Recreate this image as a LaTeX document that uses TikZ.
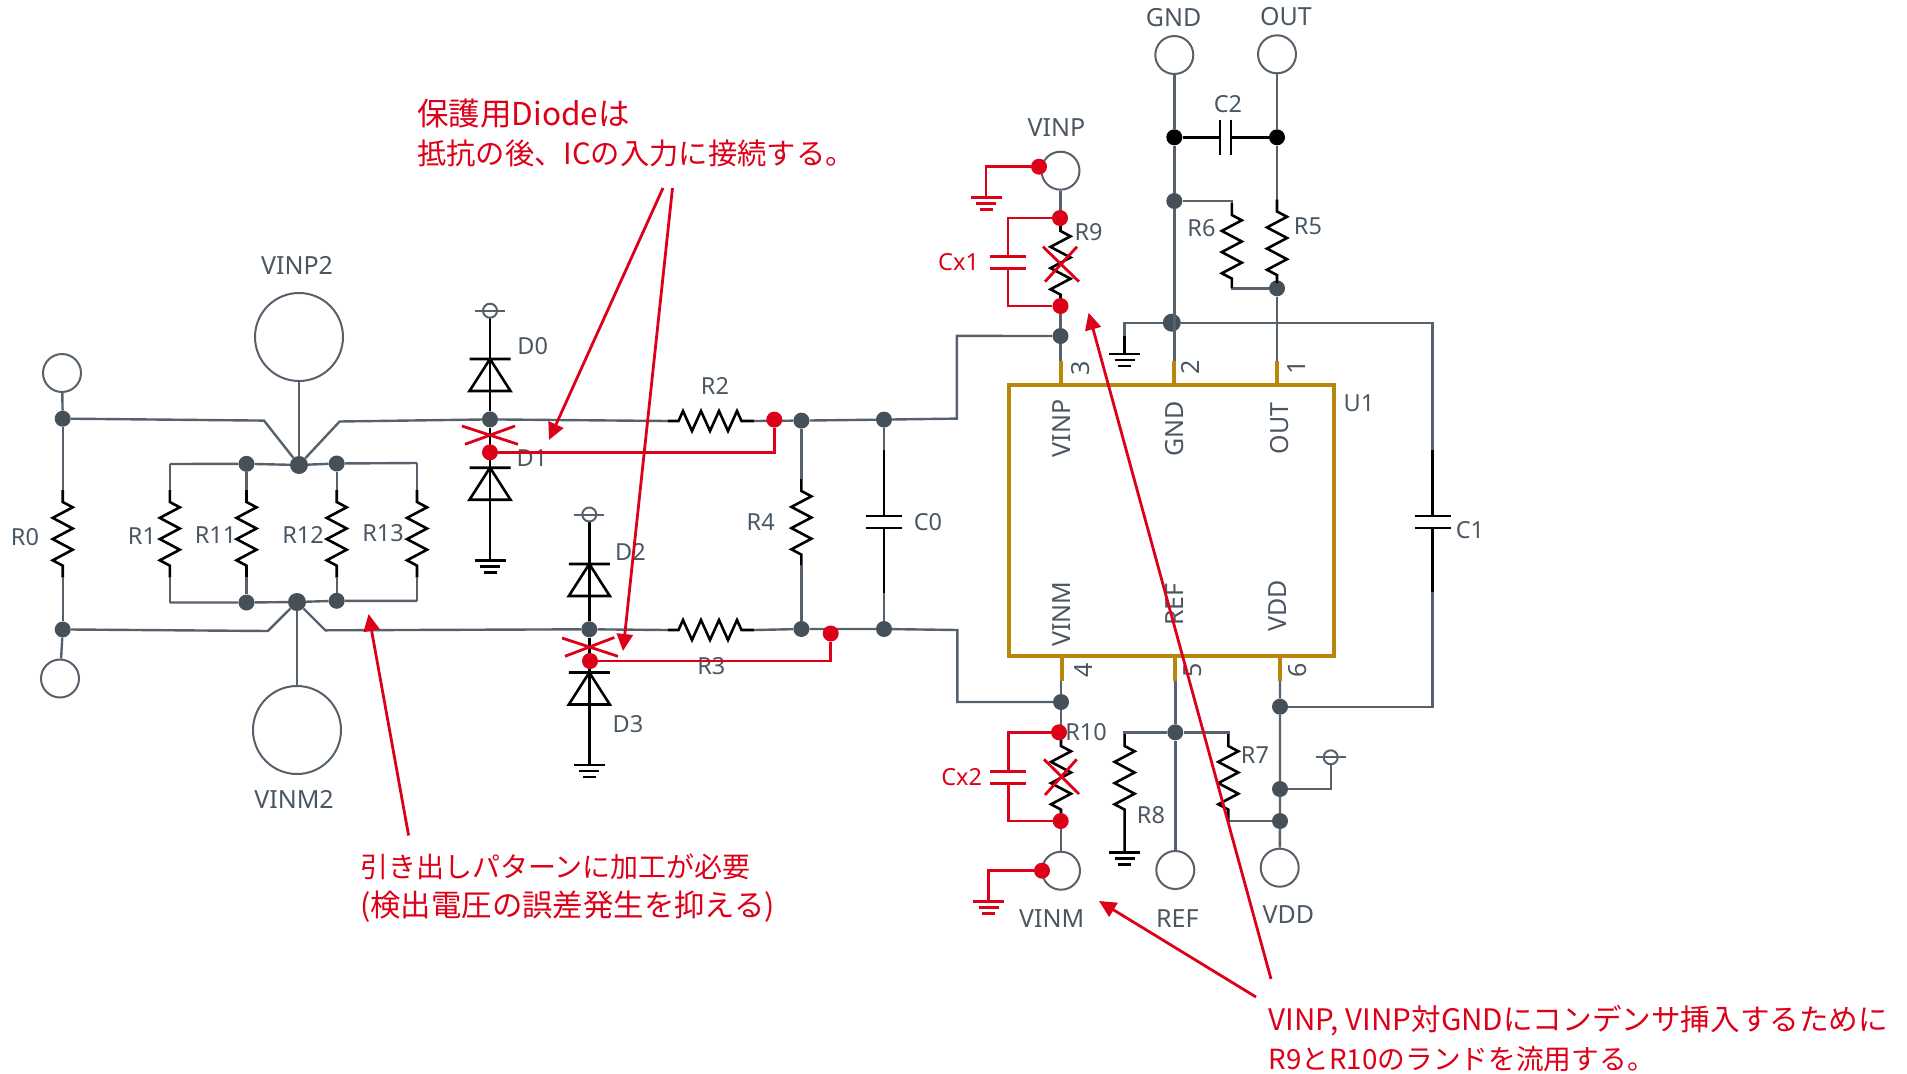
\documentclass[tikz,border=0pt]{standalone}
\usepackage{fontspec}
\setmainfont{Noto Sans}
\newfontfamily\cjk{Noto Sans CJK JP}
\usetikzlibrary{arrows.meta,calc}
\definecolor{wiregrey}{HTML}{56616C}
\definecolor{dotgrey}{HTML}{465058}
\definecolor{textgrey}{HTML}{4A5763}
\definecolor{redc}{HTML}{DC0018}
\definecolor{icor}{HTML}{B8860B}
\tikzset{
  wire/.style={draw=wiregrey,line width=2.4pt,line join=miter},
  blk/.style={draw=black,line width=2.6pt},
  res/.style={draw=black,line width=2.6pt,line join=miter},
  redw/.style={draw=redc,line width=2.8pt},
  redarrow/.style={draw=redc,line width=2.8pt,-{Triangle[length=17pt,width=16pt]}},
  icl/.style={draw=icor,line width=4pt},
  jn/.style={circle,fill=dotgrey,inner sep=0pt,minimum size=16pt},
  jnbig/.style={circle,fill=dotgrey,inner sep=0pt,minimum size=18pt},
  jnblk/.style={circle,fill=black,inner sep=0pt,minimum size=16pt},
  rd/.style={circle,fill=redc,inner sep=0pt,minimum size=16pt},
  port/.style={circle,draw=wiregrey,fill=white,line width=2pt,inner sep=0pt,minimum size=38pt},
  bigport/.style={circle,draw=wiregrey,fill=white,line width=2pt,inner sep=0pt,minimum size=88pt},
  lbl/.style={text=textgrey,inner sep=0pt,font=\fontsize{23.5}{26}\selectfont},
  biglbl/.style={text=textgrey,inner sep=0pt,font=\fontsize{25}{28}\selectfont},
  rlbl/.style={text=redc,inner sep=0pt,font=\fontsize{23.5}{26}\selectfont},
  captxt/.style={text=redc,inner sep=0pt,anchor=west,align=left,font=\cjk\fontsize{29}{39}\selectfont},
  gndsym/.pic={\draw[line width=2.6pt] (-15.5,0)--(15.5,0) (-10,6)--(10,6) (-6.5,12)--(6.5,12);},
  pwrsym/.pic={\draw[line width=2pt,fill=white] (0,0) circle (7pt); \draw[line width=2pt] (-15,0)--(15,0);},
  dio/.pic={\draw[black,line width=2.6pt,line join=miter] (-20.5,0)--(20.5,0) (0,0)--(-20.5,32)--(20.5,32)--cycle;},
  capv/.pic={\draw[line width=2.6pt] (-18,-6)--(18,-6) (-18,6)--(18,6);},
  caph/.pic={\draw[line width=2.6pt] (-5.5,-17.5)--(-5.5,17.5) (5.5,-17.5)--(5.5,17.5);},
}
% vertical resistor: starts at named coordinate #1, ends at #2
\newcommand{\vres}[2]{\draw[res] (#1) -- ++(0,12) -- ++(10,5.3) -- ++(-20,10.6) -- ++(20,10.6) -- ++(-20,10.6) -- ++(20,10.6) -- ++(-20,10.6) -- ++(10,5.3) -- (#2);}
% horizontal resistor
\newcommand{\hres}[2]{\draw[res] (#1) -- ++(11,0) -- ++(4.5,-10) -- ++(9,20) -- ++(9,-20) -- ++(9,20) -- ++(9,-20) -- ++(9,20) -- ++(9,-20) -- ++(4.5,10) -- (#2);}
\newcommand{\capline}[2]{{\fontsize{#1}{39}\selectfont #2}}
\begin{document}
\begin{tikzpicture}[x=1pt,y=-1pt]
\useasboundingbox (0,0) rectangle (1907,1074);
%---- junctions and ports
\node[port] (pTL) at (62,373) {};
\node[port] (pBL) at (60,678.5) {};
\node[bigport] (pVINP2) at (299,337) {};
\node[bigport] (pVINM2) at (297,730) {};
\node[port] (pGND) at (1174.3,55) {};
\node[port] (pOUT) at (1277,54.3) {};
\node[port] (pVINP) at (1060.5,170.7) {};
\node[port] (pVINM) at (1061,870.7) {};
\node[port] (pREF) at (1175.3,870) {};
\node[port] (pVDD) at (1279.7,867.7) {};

\node[jn] (jTL) at (62.7,418.7) {};
\node[jn] (jBL) at (62.7,629.5) {};
\node[jnbig] (hubT) at (299,465) {};
\node[jnbig] (hubB) at (297,602) {};
\node[jn] (jR11t) at (246.5,463.8) {};
\node[jn] (jR12t) at (336.7,463.5) {};
\node[jn] (jR11b) at (246.5,602.5) {};
\node[jn] (jR12b) at (336.7,600.8) {};
\node[jn] (jD0) at (490,419.4) {};
\node[jn] (jD2) at (589.3,629.3) {};
\node[jn] (jR4t) at (801.4,420.6) {};
\node[jn] (jC0t) at (884,419.6) {};
\node[jn] (jR4b) at (801.4,629) {};
\node[jn] (jC0b) at (884,629) {};
\node[jn] (jVINP) at (1060.5,336) {};
\node[jnbig] (jGNDp) at (1171.8,322.7) {};
\node[jn] (jR6) at (1174.3,201) {};
\node[jn] (jR5) at (1277,288.3) {};
\node[jnblk] (jC2l) at (1174.3,137.3) {};
\node[jnblk] (jC2r) at (1277,137.3) {};
\node[jn] (jVINM) at (1061,702) {};
\node[jn] (jREF) at (1175.3,732.3) {};
\node[jn] (jVDDa) at (1280,706.7) {};
\node[jn] (jVDDb) at (1280,789) {};
\node[jn] (jVDDc) at (1280,821) {};

%---- coordinates
\coordinate (tl1) at (264,420.6);
\coordinate (tr1) at (339.6,421.5);
\coordinate (bl1) at (267.8,631);
\coordinate (br1) at (325.3,630.3);
\coordinate (r1t) at (169.8,464);
\coordinate (r1b) at (169.8,602.5);
\coordinate (r13t) at (417,463);
\coordinate (r13b) at (417,600.8);
\coordinate (R2a) at (667.5,421);
\coordinate (R2b) at (754.3,421);
\coordinate (R3a) at (667.5,630);
\coordinate (R3b) at (754.3,630);
\coordinate (cU) at (956.8,418.6);
\coordinate (cUu) at (956.8,335.9);
\coordinate (cD) at (957.3,630);
\coordinate (cDd) at (957.3,702);
\coordinate (sD0) at (490,310.7);
\coordinate (sD2) at (589.3,514.5);
\coordinate (gD1) at (490,560.7);
\coordinate (gD3) at (589.3,765);
\coordinate (gU) at (1124.6,354);
\coordinate (gR8) at (1124.6,852.3);
\coordinate (gPcorner) at (1124.6,322.7);
\coordinate (gPdown) at (1124.6,336);
\coordinate (c1top) at (1432.5,322.7);
\coordinate (c1bot) at (1432.5,706.7);
\coordinate (sVDD) at (1330.7,757.3);
\coordinate (R0a) at (62.7,490);   \coordinate (R0b) at (62.7,577.5);
\coordinate (R1a) at (169.8,490);  \coordinate (R1b) at (169.8,577.5);
\coordinate (R11a) at (246.5,490); \coordinate (R11b) at (246.5,577.5);
\coordinate (R12a) at (336.7,490); \coordinate (R12b) at (336.7,577.5);
\coordinate (R13a) at (417,490);   \coordinate (R13b) at (417,577.5);
\coordinate (R4a) at (801.4,479);  \coordinate (R4b) at (801.4,565);
\coordinate (R5a) at (1277,199.5); \coordinate (R5b) at (1277,283);
\coordinate (R6a) at (1231.8,203); \coordinate (R6b) at (1231.8,288);
\coordinate (R7a) at (1228.3,734); \coordinate (R7b) at (1228.3,821);
\coordinate (R8a) at (1124.6,734); 
\coordinate (R9a) at (1060.5,219);   \coordinate (R9b) at (1060.5,306);
\coordinate (R10a) at (1061,734);  \coordinate (R10b) at (1061,821);

%---- grey wires
\draw[wire] (pTL) -- (jTL);
\draw[wire] (pBL) -- (jBL);
\draw[wire] (jTL) -- (R0a);
\draw[wire] (R0b) -- (jBL);
\draw[wire] (jTL.east) -- (tl1) -- (hubT);
\draw[wire] (hubT) -- (tr1) -- (jD0) -- (R2a);
\draw[wire] (jBL.east) -- (bl1) -- (hubB);
\draw[wire] (hubB) -- (br1) -- (jD2) -- (R3a);
\draw[wire] (pVINP2) -- (hubT);
\draw[wire] (hubB) -- (pVINM2);
\draw[wire] (r1t) -- (jR11t) -- (hubT) -- (jR12t) -- (r13t);
\draw[wire] (r1b) -- (jR11b) -- (hubB) -- (jR12b) -- (r13b);
\draw[wire] (R2b) -- (jR4t) -- (jC0t) -- (cU) -- (cUu) -- (jVINP);
\draw[wire] (R3b) -- (jR4b) -- (jC0b) -- (cD) -- (cDd) -- (jVINM);
\draw[wire] (jR4t) -- (R4a);
\draw[wire] (R4b) -- (jR4b);
\draw[wire] (jC0t) -- (884,450);
\draw[wire] (884,593) -- (jC0b);
\draw[wire] (jR11t) -- (R11a);
\draw[wire] (R11b) -- (jR11b);
\draw[wire] (jR12t) -- (R12a);
\draw[wire] (R12b) -- (jR12b);
\draw[wire] (r1t) -- (R1a);
\draw[wire] (R1b) -- (r1b);
\draw[wire] (r13t) -- (R13a);
\draw[wire] (R13b) -- (r13b);
\draw[wire] (pVINP) -- (R9a);
\draw[wire] (R9b) -- (jVINP) -- (1060.5,361);
\draw[wire] (pGND) -- (jC2l) -- (jR6) -- (1174.3,361);
\draw[wire] (pOUT) -- (jC2r) -- (R5a);
\draw[wire] (R5b) -- (jR5) -- (1277,361);
\draw[wire] (jR6) -| (R6a);
\draw[wire] (R6b) |- (jR5);
\draw[wire] (gPdown) |- (jGNDp) -- (c1top) -- (1432.5,450);
\draw[wire] (1432.5,592) -- (c1bot) -- (jVDDa);
\draw[wire] (jVINM) -- (1061,681);
\draw[wire] (jVINM) -- (R10a);
\draw[wire] (R10b) -- (pVINM);
\draw[wire] (pREF) -- (jREF) -- (1175.3,681);
\draw[wire] (1280,681) -- (jVDDa) -- (jVDDb) -- (jVDDc) -- (pVDD);
\draw[wire] (jVDDb) -| (sVDD);
\draw[wire] (R8a) |- (jREF) -| (R7a);
\draw[wire] (R7b) |- (jVDDc);

%---- black resistors
\foreach \a/\b in {R0a/R0b,R1a/R1b,R11a/R11b,R12a/R12b,R13a/R13b,R4a/R4b,R5a/R5b,R6a/R6b,R7a/R7b,R9a/R9b,R10a/R10b}{\vres{\a}{\b}}
\vres{R8a}{gR8}
\hres{R2a}{R2b}
\hres{R3a}{R3b}

%---- diodes, power and ground
\draw[blk] (sD0) -- (jD0);
\draw[blk] (jD0) -- (gD1);
\draw[blk] (sD2) -- (jD2);
\draw[blk] (jD2) -- (gD3);
\pic[wiregrey] at (sD0) {pwrsym};
\pic[wiregrey] at (sD2) {pwrsym};
\pic[wiregrey] at (sVDD) {pwrsym};
\pic at (490,359) {dio};
\pic at (490,467.7) {dio};
\pic at (589.3,564) {dio};
\pic at (589.3,672.5) {dio};
\pic[black] at (gD1) {gndsym};
\pic[black] at (gD3) {gndsym};
\pic[black] at (gU) {gndsym};
\pic[black] at (gR8) {gndsym};
\draw[blk] (gPdown) -- (gU);

%---- capacitors
\draw[blk] (884,450) -- (884,516);
\draw[blk] (884,528) -- (884,593);
\pic[black] at (884,522) {capv};
\draw[blk] (1432.5,450) -- (1432.5,516);
\draw[blk] (1432.5,528) -- (1432.5,592);
\pic[black] at (1432.5,522) {capv};
\draw[blk] (jC2l) -- (1220,137.3);
\draw[blk] (1231,137.3) -- (jC2r);
\pic[black] at (1225.5,137.3) {caph};

%---- IC
\node[icl,fill=white,inner sep=0pt,minimum width=324.5pt,minimum height=270.7pt] (U1) at (1171.7,520.3) {};
\draw[icl] (1061,361) -- (1061,385);
\draw[icl] (1173.5,361) -- (1173.5,385);
\draw[icl] (1277,361) -- (1277,385);
\draw[icl] (1062,655.7) -- (1062,681);
\draw[icl] (1175.3,655.7) -- (1175.3,681);
\draw[icl] (1279.7,655.7) -- (1279.7,681);

%---- labels
\node[biglbl] (lVINP2) at (297,265) {VINP2};
\node[biglbl] (lVINM2) at (294,799.5) {VINM2};
\node[lbl] (lR0) at (25,537.3) {R0};
\node[lbl] (lR1) at (142,536) {R1};
\node[lbl] (lR11) at (215.5,535.4) {R11};
\node[lbl] (lR12) at (303,534.6) {R12};
\node[lbl] (lR13) at (383,533.5) {R13};
\node[lbl] (lD0) at (532.7,345.6) {D0};
\node[lbl] (lD1) at (532,457.7) {D1};
\node[lbl] (lD2) at (630.4,552) {D2};
\node[lbl] (lD3) at (628,724) {D3};
\node[lbl] (lR2) at (715,386) {R2};
\node[lbl] (lR3) at (711.4,666) {R3};
\node[lbl] (lR4) at (760.7,522) {R4};
\node[lbl] (lC0) at (928,522) {C0};
\node[lbl] (lC1) at (1470,530.5) {C1};
\node[lbl] (lC2) at (1228,104) {C2};
\node[lbl] (lR5) at (1308,226.7) {R5};
\node[lbl] (lR6) at (1201.4,228.3) {R6};
\node[lbl] (lR7) at (1255,755) {R7};
\node[lbl] (lR8) at (1151,815) {R8};
\node[lbl] (lR9) at (1088.6,232) {R9};
\node[lbl] (lR10) at (1086,732.3) {R10};
\node[biglbl] (lGND) at (1173.6,17.3) {GND};
\node[biglbl] (lOUT) at (1286,16.7) {OUT};
\node[biglbl] (lVINP) at (1056.4,127.5) {VINP};
\node[biglbl] (lVINM) at (1051.7,918.3) {VINM};
\node[biglbl] (lREF) at (1177.3,918.3) {REF};
\node[biglbl] (lVDD) at (1288.3,914.3) {VDD};
\node[lbl] (lU1) at (1359,403.5) {U1};
\node[biglbl,rotate=90] (iVINP) at (1061.5,428.5) {VINP};
\node[biglbl,rotate=90] (iGND) at (1174.6,428.5) {GND};
\node[biglbl,rotate=90] (iOUT) at (1280,428.5) {OUT};
\node[biglbl,rotate=90] (iVINM) at (1061.5,614) {VINM};
\node[biglbl,rotate=90] (iREF) at (1174.6,604.5) {REF};
\node[biglbl,rotate=90] (iVDD) at (1278,605.7) {VDD};
\node[biglbl,rotate=90] (n3) at (1080.7,368.3) {3};
\node[biglbl,rotate=90] (n2) at (1190.7,367) {2};
\node[biglbl,rotate=90] (n1) at (1296.8,367) {1};
\node[biglbl,rotate=90] (n4) at (1083.3,670) {4};
\node[biglbl,rotate=90] (n5) at (1193,670) {5};
\node[biglbl,rotate=90] (n6) at (1298,670) {6};
\node[rlbl] (lCx1) at (958.6,261.7) {Cx1};
\node[rlbl] (lCx2) at (961.7,777.3) {Cx2};

%---- red additions
\node[rd] (rD1) at (490,452.3) {};
\node[rd] (rD3) at (590,661) {};
\node[rd] (rR2) at (774.3,419.6) {};
\node[rd] (rR3) at (830.7,633.5) {};
\node[rd] (rP) at (1039,166.7) {};
\node[rd] (rR9t) at (1060,218) {};
\node[rd] (rR9b) at (1060.5,306) {};
\node[rd] (rM) at (1042,870.7) {};
\node[rd] (rR10t) at (1059,732.3) {};
\node[rd] (rR10b) at (1060.7,821) {};
\coordinate (gP) at (986,197.3);
\coordinate (gM) at (988.7,901.7);
\draw[redw] (rD1) -| (rR2);
\draw[redw] (rD3) -| (rR3);
\draw[redw] (rP) -| (gP);
\draw[redw] (rM) -| (gM);
\pic[redc] at (gP) {gndsym};
\pic[redc] at (gM) {gndsym};
\coordinate (cx1c) at (1007.9,262.3);
\coordinate (cx2c) at (1008.3,777.5);
\draw[redw] (rR9t) -| (1007.9,256.3);
\draw[redw] (rR9b) -| (1007.9,268.3);
\draw[redw] (rR10t) -| (1008.3,771.5);
\draw[redw] (rR10b) -| (1008.3,783.5);
\pic[redc] at (cx1c) {capv};
\pic[redc] at (cx2c) {capv};
% crosses
\draw[redw] (462,426) -- (518,444.3) (465,444.3) -- (515,426);
\draw[redw] (562,638) -- (618,656.3) (565,656.3) -- (614.3,637.5);
\draw[redw] (1043,246.7) -- (1079,281.7) (1045,281.7) -- (1077,246.7);
\draw[redw] (1044,759.3) -- (1079,794) (1045,795) -- (1076.7,759.3);
% callout arrows
\coordinate (a1s) at (663,188); \coordinate (a1e) at (549,440);
\coordinate (a2s) at (672.5,188); \coordinate (a2e) at (623,651);
\coordinate (a3s) at (408.6,835.5); \coordinate (a3e) at (368.6,614);
\coordinate (a4s) at (1271,979); \coordinate (a4e) at (1088.6,312.7);
\coordinate (a5s) at (1256,997); \coordinate (a5e) at (1099,901);
\draw[redarrow] (a1s) -- (a1e);
\draw[redarrow] (a2s) -- (a2e);
\draw[redarrow] (a3s) -- (a3e);
\draw[redarrow] (a4s) -- (a4e);
\draw[redarrow] (a5s) -- (a5e);
% captions
\node[captxt] (t1) at (417,133) {\capline{31.5}{保護用Diodeは}\\\capline{29.3}{抵抗の後、ICの入力に接続する。}};
\node[captxt] (t2) at (360,888.5) {\capline{28}{引き出しパターンに加工が必要}\\\capline{30.4}{(検出電圧の誤差発生を抑える)}};
\node[captxt] (t3) at (1268.5,1039) {\capline{29.6}{VINP, VINP対GNDにコンデンサ挿入するために}\\\capline{27.7}{R9とR10のランドを流用する。}};
\end{tikzpicture}
\end{document}
